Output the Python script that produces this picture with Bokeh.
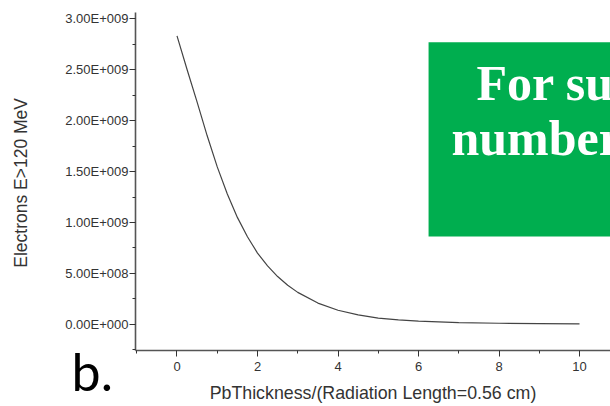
import math
from bokeh.plotting import figure
from bokeh.models import Range1d, FixedTicker, BoxAnnotation, Label
from bokeh.embed import file_html
from bokeh.resources import INLINE

# Data
thickness = [0, 0.25, 0.5, 0.75, 1.0, 1.25, 1.5, 1.75, 2.0, 2.25, 2.5, 2.75,
             3.0, 3.5, 4.0, 4.5, 5.0, 5.5, 6.0, 7.0, 8.0, 9.0, 10.0]
electrons = [2.83e9, 2.50e9, 2.18e9, 1.85e9, 1.545e9, 1.28e9, 1.05e9, 0.86e9,
             0.70e9, 0.575e9, 0.47e9, 0.385e9, 0.315e9, 0.21e9, 0.14e9,
             0.094e9, 0.063e9, 0.045e9, 0.033e9, 0.019e9, 0.012e9, 0.009e9, 0.007e9]

x_ticks = [0, 2, 4, 6, 8, 10]
x_minor = [-1, 1, 3, 5, 7, 9]
y_ticks = [0, 0.5e9, 1.0e9, 1.5e9, 2.0e9, 2.5e9, 3.0e9]
y_tick_labels = ["0.00E+000", "5.00E+008", "1.00E+009", "1.50E+009",
                 "2.00E+009", "2.50E+009", "3.00E+009"]
y_minor = [-0.25e9, 0.25e9, 0.75e9, 1.25e9, 1.75e9, 2.25e9, 2.75e9]

x_label = "PbThickness/(Radiation Length=0.56 cm)"
y_label = "Electrons E>120 MeV"

p = figure(width=610, height=406, output_backend="svg", toolbar_location=None,
           x_range=Range1d(-1.031, 10.77), y_range=Range1d(-0.255e9, 3.059e9),
           min_border_left=135, min_border_right=0, min_border_top=12,
           min_border_bottom=56)
p.outline_line_color = None
p.xgrid.visible = False
p.ygrid.visible = False
p.background_fill_color = "white"
p.border_fill_color = "white"

p.line(thickness, electrons, line_color="#444444", line_width=1.2)

for ax in (p.xaxis[0], p.yaxis[0]):
    ax.axis_line_color = "#555555"
    ax.axis_line_width = 1.6
    ax.major_tick_line_color = "#333333"
    ax.minor_tick_line_color = "#333333"
    ax.major_tick_in = 0
    ax.minor_tick_in = 0
    ax.major_tick_out = 6
    ax.minor_tick_out = 3
    ax.major_label_text_font = "Liberation Sans"
    ax.major_label_text_font_size = "13px"
    ax.major_label_text_color = "#333333"
    ax.axis_label_text_font = "Liberation Sans"
    ax.axis_label_text_font_size = "17.8px"
    ax.axis_label_text_font_style = "normal"
    ax.axis_label_text_color = "#333333"

p.xaxis.ticker = FixedTicker(ticks=x_ticks, minor_ticks=x_minor)
p.yaxis.ticker = FixedTicker(ticks=y_ticks, minor_ticks=y_minor)
p.yaxis.major_label_overrides = {t: s for t, s in zip(y_ticks, y_tick_labels)}
p.xaxis.axis_label = x_label
p.xaxis.major_label_standoff = 5
p.yaxis.major_label_standoff = 1
p.xaxis.axis_label_standoff = 9

# Y axis title drawn as an unclipped label in the left panel
p.add_layout(Label(x=-3.888, y=1.3886e9, text=y_label, angle=math.pi / 2,
                   text_align="center", text_baseline="middle",
                   text_font="Liberation Sans", text_font_size="17.5px",
                   text_color="#333333"), "left")

# Panel letter (outside the frame, so placed in a side panel)
p.add_layout(Label(x=-2.62, y=-0.458e9, text="b.", text_color="black",
                   text_font="Lato", text_font_size="52px",
                   text_baseline="alphabetic"), "left")

# Green overlay box with white text
p.add_layout(BoxAnnotation(left=6.25, right=11, bottom=0.8636e9, top=2.767e9,
                           fill_color="#00AE4F", fill_alpha=1.0, line_color=None))
p.add_layout(Label(x=7.44, y=2.37e9, text="For su", text_color="white",
                   text_font="Liberation Serif", text_font_style="bold",
                   text_font_size="50px", text_baseline="alphabetic"))
p.add_layout(Label(x=6.82, y=1.83e9, text="number", text_color="white",
                   text_font="Liberation Serif", text_font_style="bold",
                   text_font_size="50px", text_baseline="alphabetic"))

open("out.html", "w").write(file_html(p, INLINE))
